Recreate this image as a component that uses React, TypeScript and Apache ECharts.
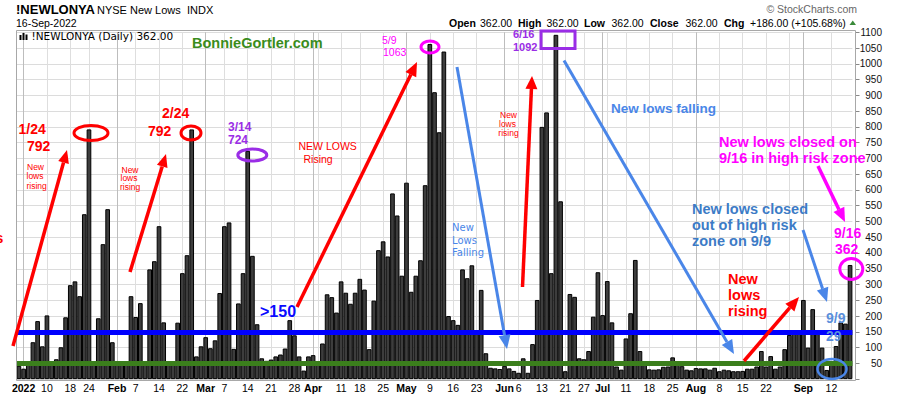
import React, { useEffect, useRef } from "react";
import * as echarts from "echarts";

// Trading days shown on the chart (NYSE sessions)
const monthDays: [string, number[]][] = [
  ["2021-12", [31]],
  ["2022-01", [3, 4, 5, 6, 7, 10, 11, 12, 13, 14, 18, 19, 20, 21, 24, 25, 26, 27, 28, 31]],
  ["2022-02", [1, 2, 3, 4, 7, 8, 9, 10, 11, 14, 15, 16, 17, 18, 22, 23, 24, 25, 28]],
  ["2022-03", [1, 2, 3, 4, 7, 8, 9, 10, 11, 14, 15, 16, 17, 18, 21, 22, 23, 24, 25, 28, 29, 30, 31]],
  ["2022-04", [1, 4, 5, 6, 7, 8, 11, 12, 13, 14, 18, 19, 20, 21, 22, 25, 26, 27, 28, 29]],
  ["2022-05", [2, 3, 4, 5, 6, 9, 10, 11, 12, 13, 16, 17, 18, 19, 20, 23, 24, 25, 26, 27, 31]],
  ["2022-06", [1, 2, 3, 6, 7, 8, 9, 10, 13, 14, 15, 16, 17, 21, 22, 23, 24, 27, 28, 29, 30]],
  ["2022-07", [1, 5, 6, 7, 8, 11, 12, 13, 14, 15, 18, 19, 20, 21, 22, 25, 26, 27, 28, 29]],
  ["2022-08", [1, 2, 3, 4, 5, 8, 9, 10, 11, 12, 15, 16, 17, 18, 19, 22, 23, 24, 25, 26, 29, 30, 31]],
  ["2022-09", [1, 2, 6, 7, 8, 9, 12, 13, 14, 15, 16]],
];

// NYSE new lows
const dec21Lows = [42];
const janLows = [33, 48, 117, 184, 104, 202, 46, 63, 101, 196, 298, 310, 263, 523, 792, 48, 193, 428, 539, 117];
const febLows = [50, 45, 48, 263, 197, 241, 45, 348, 374, 485, 180, 50, 48, 179, 336, 393, 792, 72, 104];
const marLows = [133, 98, 123, 273, 485, 497, 96, 240, 336, 724, 391, 174, 66, 58, 62, 72, 78, 97, 187, 139, 72, 27, 72];
const aprLows = [76, 57, 113, 269, 260, 211, 310, 274, 239, 274, 318, 284, 95, 249, 409, 437, 389, 589, 519, 328];
const mayLows = [623, 277, 328, 377, 615, 1063, 910, 783, 1039, 200, 187, 172, 348, 320, 361, 143, 283, 82, 36, 34, 32];
const junLows = [42, 34, 26, 20, 66, 20, 111, 251, 800, 846, 336, 1092, 564, 25, 270, 261, 66, 63, 89, 198, 339];
const julLows = [203, 311, 180, 40, 30, 129, 209, 378, 89, 45, 31, 30, 31, 39, 40, 69, 45, 41, 30, 28];
const augLows = [35, 34, 34, 30, 36, 25, 30, 28, 25, 25, 26, 33, 33, 40, 89, 40, 73, 33, 40, 95, 140, 145, 145];
const sepLows = [251, 100, 222, 143, 100, 29, 45, 105, 180, 176, 362];

const newLows = [
  ...dec21Lows, ...janLows, ...febLows, ...marLows, ...aprLows,
  ...mayLows, ...junLows, ...julLows, ...augLows, ...sepLows,
];

const categories = monthDays.flatMap(([m, days]) =>
  days.map((d) => `${m}-${String(d).padStart(2, "0")}`)
);

// x tick labels: [date, label, bold]
const tickLabels: [string, string, boolean][] = [
  ["2022-01-03", "2022", true], ["2022-01-10", "10", false], ["2022-01-18", "18", false], ["2022-01-24", "24", false],
  ["2022-02-01", "Feb", true], ["2022-02-07", "7", false], ["2022-02-14", "14", false], ["2022-02-22", "22", false],
  ["2022-03-01", "Mar", true], ["2022-03-07", "7", false], ["2022-03-14", "14", false], ["2022-03-21", "21", false], ["2022-03-28", "28", false],
  ["2022-04-01", "Apr", true], ["2022-04-11", "11", false], ["2022-04-18", "18", false], ["2022-04-25", "25", false],
  ["2022-05-02", "May", true], ["2022-05-09", "9", false], ["2022-05-16", "16", false], ["2022-05-23", "23", false],
  ["2022-06-01", "Jun", true], ["2022-06-06", "6", false], ["2022-06-13", "13", false], ["2022-06-21", "21", false], ["2022-06-27", "27", false],
  ["2022-07-01", "Jul", true], ["2022-07-11", "11", false], ["2022-07-18", "18", false], ["2022-07-25", "25", false],
  ["2022-08-01", "Aug", true], ["2022-08-08", "8", false], ["2022-08-15", "15", false], ["2022-08-22", "22", false],
  ["2022-09-01", "Sep", true], ["2022-09-12", "12", false],
];
const extraWeekLines = ["2022-04-04", "2022-07-05", "2022-08-29"];

const SANS = '"Liberation Sans", Arial, sans-serif';
const VERD = '"DejaVu Sans", Verdana, sans-serif';

function txt(x: number, y: number, text: string, size: number, color: string, weight = "normal", family = SANS, align = "left") {
  return {
    type: "text", x, y, z: 100, silent: true,
    style: {
      text, fill: color, fontSize: size, fontWeight: weight, fontFamily: family,
      textAlign: align, textVerticalAlign: "middle", align, verticalAlign: "middle",
    },
  };
}

function arrow(x1: number, y1: number, x2: number, y2: number, color: string, w: number, hl: number, hw: number) {
  const dx = x2 - x1, dy = y2 - y1;
  const len = Math.hypot(dx, dy);
  const ux = dx / len, uy = dy / len;
  const bx = x2 - ux * hl, by = y2 - uy * hl;
  const px = -uy, py = ux;
  return [
    { type: "line", z: 100, silent: true, shape: { x1, y1, x2: bx, y2: by }, style: { stroke: color, lineWidth: w } },
    {
      type: "polygon", z: 100, silent: true,
      shape: { points: [[x2, y2], [bx + (px * hw) / 2, by + (py * hw) / 2], [bx - (px * hw) / 2, by - (py * hw) / 2]] },
      style: { fill: color },
    },
  ];
}

function ell(cx: number, cy: number, rx: number, ry: number, color: string, w: number) {
  return { type: "ellipse", z: 100, silent: true, shape: { cx, cy, rx, ry }, style: { fill: "none", stroke: color, lineWidth: w } };
}

const RED = "#ff0000";
const MAG = "#ff00ff";
const PUR = "#9a2de6";
const LBLUE = "#4a86e8";
const SBLUE = "#3c7bc6";

function buildOption() {
  const labelMap = new Map(tickLabels.map(([d, l, b]) => [d, { l, b }]));
  const gridLines = [
    ...tickLabels.map(([d, , b]) => ({ xAxis: d, lineStyle: { color: b ? "#bdbdbd" : "#dedede", width: 1, type: "solid" } })),
    ...extraWeekLines.map((d) => ({ xAxis: d, lineStyle: { color: "#dedede", width: 1, type: "solid" } })),
  ];

  const ohlc: [number, string, boolean][] = [
    [449, "Open", true], [480, "362.00", false], [518, "High", true], [546.5, "362.00", false],
    [584, "Low", true], [611.5, "362.00", false], [650, "Close", true], [685.5, "362.00", false],
    [724, "Chg", true], [750, "+186.00 (+105.68%)", false],
  ];

  const graphics: any[] = [
    // plot frame
    { type: "rect", z: 90, silent: true, shape: { x: 16.5, y: 30.5, width: 839, height: 350 }, style: { fill: "none", stroke: "#a8a8a8", lineWidth: 1 } },
    // header
    txt(16, 9, "!NEWLONYA", 13, "#000", "bold"),
    txt(97, 9.5, "NYSE New Lows", 11, "#000"),
    txt(187, 9.5, "INDX", 11, "#000"),
    txt(16, 22.5, "16-Sep-2022", 10.5, "#000"),
    txt(857, 9, "\u00a9 StockCharts.com", 10.5, "#666", "normal", SANS, "right"),
    ...ohlc.map(([x, t, b]) => txt(x, 22.5, t, 10.5, "#000", b ? "bold" : "normal")),
    { type: "polygon", z: 100, silent: true, shape: { points: [[849.5, 25], [856, 25], [852.75, 20.5]] }, style: { fill: "#3a8a3a" } },
    // legend inside chart
    { type: "rect", z: 100, silent: true, shape: { x: 19.5, y: 35, width: 2, height: 5 }, style: { fill: "#000" } },
    { type: "rect", z: 100, silent: true, shape: { x: 22.5, y: 33, width: 2, height: 7 }, style: { fill: "#000" } },
    { type: "rect", z: 100, silent: true, shape: { x: 25.5, y: 34.5, width: 2, height: 5.5 }, style: { fill: "#000" } },
    txt(31.5, 36, "!NEWLONYA (Daily) 362.00", 10.5, "#000", "normal", VERD),
    txt(192, 43, "BonnieGortler.com", 14.5, "#3a8c1c", "bold"),
    // left cut-off text (as in the reference)
    txt(-4.5, 238, "s", 14, RED, "bold"),
    // Jan 24
    txt(18.5, 129, "1/24", 14, RED, "bold"),
    txt(27, 145.5, "792", 14, RED, "bold"),
    ell(91, 133, 17, 7.5, RED, 3),
    txt(27, 166.5, "New", 8.5, RED),
    txt(26.5, 176.3, "lows", 8.5, RED),
    txt(26.5, 185.5, "rising", 8.5, RED),
    ...arrow(13, 346, 67, 150, RED, 3.5, 13, 11),
    // Feb 24
    txt(162, 113, "2/24", 14, RED, "bold"),
    txt(148, 131, "792", 14, RED, "bold"),
    ell(191, 133, 10, 7, RED, 3),
    txt(121.5, 169.7, "New", 8.5, RED),
    txt(120.5, 178, "lows", 8.5, RED),
    txt(120, 187, "rising", 8.5, RED),
    ...arrow(130, 272, 166, 154, RED, 3.5, 13, 11),
    // Mar 14
    txt(228, 126.5, "3/14", 12, PUR, "bold"),
    txt(228, 140, "724", 12, PUR, "bold"),
    ell(252.3, 155, 14.5, 6, PUR, 3),
    // >150 and NEW LOWS Rising
    txt(260, 311, ">150", 16, "#0a0aff", "bold"),
    txt(298.5, 146, "NEW LOWS", 10.5, RED),
    txt(303.5, 158.5, "Rising", 10.5, RED),
    ...arrow(297, 307, 417, 62, RED, 3.5, 14, 12),
    // May 9
    txt(382, 39.5, "5/9", 10.5, MAG),
    txt(383, 51.5, "1063", 10.5, MAG),
    ell(430, 47, 9, 6, MAG, 3),
    // New Lows Falling (May)
    ...arrow(457, 67, 507, 349, LBLUE, 3, 14, 12),
    txt(452, 227.7, "New", 10, LBLUE, "normal", VERD),
    txt(452, 240, "Lows", 10, LBLUE, "normal", VERD),
    txt(452, 252, "Falling", 10, LBLUE, "normal", VERD),
    // Jun rising
    txt(500, 115, "New", 8.5, RED),
    txt(499, 123.7, "lows", 8.5, RED),
    txt(498.3, 132.7, "rising", 8.5, RED),
    ...arrow(522.5, 287, 532, 76, RED, 3.5, 13, 12),
    // Jun 16
    txt(513, 34, "6/16", 11, PUR, "bold"),
    txt(513, 46.7, "1092", 11, PUR, "bold"),
    { type: "rect", z: 100, silent: true, shape: { x: 541, y: 31, width: 34, height: 17.5 }, style: { fill: "none", stroke: PUR, lineWidth: 3 } },
    // New lows falling (Jun -> Aug)
    ...arrow(564, 60.5, 734, 354, LBLUE, 3, 14, 12),
    txt(611, 108.5, "New lows falling", 13.5, LBLUE, "bold"),
    // Aug-Sep rising
    ...arrow(744, 361, 799, 297, RED, 3.5, 14, 12),
    txt(728, 279, "New", 14.5, RED, "bold"),
    txt(728, 295, "lows", 14.5, RED, "bold"),
    txt(728, 311, "rising", 14.5, RED, "bold"),
    // closed out of high risk zone 9/9
    txt(692, 209, "New lows closed", 14.5, SBLUE, "bold"),
    txt(692, 225, "out of high risk", 14.5, SBLUE, "bold"),
    txt(692, 241, "zone on 9/9", 14.5, SBLUE, "bold"),
    ...arrow(803, 230, 827, 302, LBLUE, 3, 14, 12),
    txt(826, 317.5, "9/9", 14, "#5a8fdc", "bold"),
    txt(826, 336, "29", 14, "#5a8fdc", "bold"),
    ell(832, 369, 14.5, 10, LBLUE, 2.5),
    // 9/16 high risk zone
    txt(719, 142, "New lows closed on", 14.5, MAG, "bold"),
    txt(719, 158, "9/16 in high risk zone", 14.5, MAG, "bold"),
    ...arrow(818, 166, 845, 222, MAG, 3.5, 14, 12),
    txt(834, 232.5, "9/16", 14, MAG, "bold"),
    txt(835, 249, "362", 14, MAG, "bold"),
    ell(851.3, 269, 11.5, 10.5, MAG, 3),
  ];

  return {
    animation: false,
    backgroundColor: "#ffffff",
    grid: { left: 16.6, right: 47.6, top: 32.3, bottom: 16.9, containLabel: false },
    xAxis: {
      type: "category",
      data: categories,
      boundaryGap: true,
      axisLine: { show: false },
      axisTick: { show: false },
      splitLine: { show: false },
      axisLabel: {
        interval: (_i: number, v: string) => labelMap.has(v),
        hideOverlap: false,
        margin: 3,
        formatter: (v: string) => {
          const t = labelMap.get(v);
          if (!t) return "";
          return t.b ? `{b|${t.l}}` : `{n|${t.l}}`;
        },
        rich: {
          b: { fontWeight: "bold", fontSize: 10.5, fontFamily: SANS, color: "#000" },
          n: { fontSize: 10.5, fontFamily: SANS, color: "#000" },
        },
      },
    },
    yAxis: {
      type: "value",
      position: "right",
      min: 0,
      max: 1100,
      interval: 50,
      offset: 3.1,
      axisLine: { show: false },
      axisTick: { show: true, length: 4, lineStyle: { color: "#888" } },
      axisLabel: {
        align: "right",
        margin: 26.5,
        fontSize: 10,
        fontFamily: SANS,
        color: "#111",
        formatter: (v: number) => (v === 0 ? "" : String(v)),
      },
      splitLine: { show: true, lineStyle: { color: "#dcdcdc", width: 1 } },
    },
    series: [
      {
        type: "line",
        data: categories.map(() => null),
        symbol: "none",
        silent: true,
        z: 1,
        markLine: {
          silent: true,
          z: 1,
          symbol: ["none", "none"],
          label: { show: false },
          data: gridLines,
        },
      },
      {
        type: "bar",
        data: newLows,
        barCategoryGap: "0%",
        barGap: "0%",
        silent: true,
        z: 2,
        itemStyle: { color: "#3d3d3d", borderColor: "#000", borderWidth: 1 },
        markLine: {
          silent: true,
          symbol: ["none", "none"],
          label: { show: false },
          data: [
            { yAxis: 150, lineStyle: { color: "#0000ff", width: 5, type: "solid" } },
            { yAxis: 50, lineStyle: { color: "#3b7f1c", width: 5, type: "solid" } },
          ],
        },
      },
    ],
    graphic: { elements: graphics },
  };
}

export default function App() {
  const ref = useRef<HTMLDivElement>(null);
  useEffect(() => {
    if (!ref.current) return;
    const chart = echarts.init(ref.current, undefined, { renderer: "svg" });
    chart.setOption(buildOption() as any);
    return () => chart.dispose();
  }, []);
  return (
    <div
      ref={ref}
      style={{ position: "absolute", left: 0, top: 0, width: 900, height: 396, background: "#fff" }}
    />
  );
}
